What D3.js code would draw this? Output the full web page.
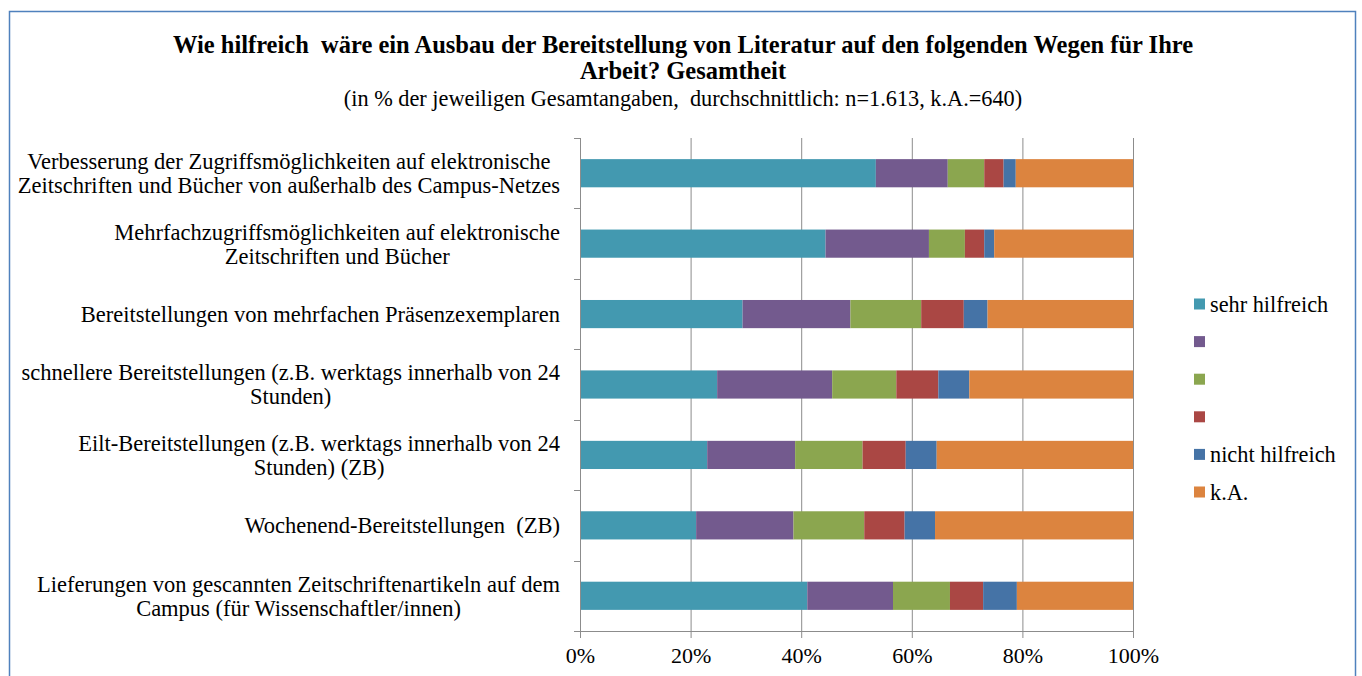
<!DOCTYPE html>
<html>
<head>
<meta charset="utf-8">
<script src="https://cdn.jsdelivr.net/npm/d3@7"></script>
<style>
    body { margin: 0; background: #fff; }
</style>
</head>
<body>
<div id="chart"></div>
<script>
// Categories (top to bottom), each entry is a list of label lines
var categories = [
    ['Verbesserung der Zugriffsmöglichkeiten auf elektronische', 'Zeitschriften und Bücher von außerhalb des Campus-Netzes'],
    ['Mehrfachzugriffsmöglichkeiten auf elektronische', 'Zeitschriften und Bücher'],
    ['Bereitstellungen von mehrfachen Präsenzexemplaren'],
    ['schnellere Bereitstellungen (z.B. werktags innerhalb von 24', 'Stunden)'],
    ['Eilt-Bereitstellungen (z.B. werktags innerhalb von 24', 'Stunden) (ZB)'],
    ['Wochenend-Bereitstellungen  (ZB)'],
    ['Lieferungen von gescannten Zeitschriftenartikeln auf dem', 'Campus (für Wissenschaftler/innen)']
];

// Series names (legend), some of the middle steps are unlabeled
var seriesNames = ['sehr hilfreich', '', '', '', 'nicht hilfreich', 'k.A.'];

// Values in % per series, in category order
var sehrHilfreich  = [53.5, 44.4, 29.4, 24.8, 23.0, 21.0, 41.1];
var stufe2         = [13.0, 18.7, 19.5, 20.8, 15.9, 17.6, 15.5];
var stufe3         = [ 6.6,  6.5, 12.8, 11.6, 12.2, 12.8, 10.3];
var stufe4         = [ 3.5,  3.5,  7.7,  7.6,  7.8,  7.3,  6.0];
var nichtHilfreich = [ 2.2,  1.8,  4.3,  5.6,  5.6,  5.5,  6.1];
var keineAngabe    = [21.2, 25.1, 26.3, 29.6, 35.5, 35.8, 21.0];

var xTicks = [0, 20, 40, 60, 80, 100];

var colors = ['#4399b0', '#735a8e', '#8ba64f', '#aa4744', '#4573a6', '#dc843f'];

var FONT = "'Liberation Serif'";

var W = 1362, H = 676;
var margin = {top: 138, left: 580, right: 229, bottom: 45};
var width = W - margin.left - margin.right;
var height = H - margin.top - margin.bottom;

var svg = d3.select('#chart').append('svg')
    .attr('width', W)
    .attr('height', H);

// Outer frame
svg.append('rect')
    .attr('x', 9.5)
    .attr('y', 11.5)
    .attr('width', 1346)
    .attr('height', 700)
    .attr('fill', 'none')
    .attr('stroke', '#4f81bd')
    .attr('stroke-width', 1.5);

// Titles
svg.append('text')
    .attr('x', 683).attr('y', 53)
    .attr('text-anchor', 'middle')
    .style('font-family', FONT)
    .style('font-weight', 'bold')
    .style('font-size', '24.5px')
    .style('white-space', 'pre')
    .text('Wie hilfreich  wäre ein Ausbau der Bereitstellung von Literatur auf den folgenden Wegen für Ihre');
svg.append('text')
    .attr('x', 683).attr('y', 79)
    .attr('text-anchor', 'middle')
    .style('font-family', FONT)
    .style('font-weight', 'bold')
    .style('font-size', '24.5px')
    .text('Arbeit? Gesamtheit');
svg.append('text')
    .attr('x', 683).attr('y', 106)
    .attr('text-anchor', 'middle')
    .style('font-family', FONT)
    .style('font-size', '22.3px')
    .style('white-space', 'pre')
    .text('(in % der jeweiligen Gesamtangaben,  durchschnittlich: n=1.613, k.A.=640)');

var g = svg.append('g')
    .attr('transform', 'translate(' + margin.left + ',' + margin.top + ')');

var x = d3.scaleLinear().domain([0, 100]).range([0, width]);
var y = d3.scaleBand()
    .domain(d3.range(categories.length))
    .range([0, height])
    .paddingInner(0.6)
    .paddingOuter(0.3);

// Vertical gridlines + bottom ticks
var xAxis = d3.axisBottom(x)
    .tickValues(xTicks)
    .tickSize(-height)
    .tickFormat(function(d) { return d + '%'; });

var xg = g.append('g')
    .attr('class', 'x axis')
    .attr('transform', 'translate(0,' + height + ')')
    .call(xAxis);
xg.select('.domain').remove();
xg.selectAll('.tick line')
    .attr('y1', 7)
    .attr('stroke', '#8c8c8c');
xg.selectAll('.tick text')
    .attr('y', 32)
    .attr('dy', 0)
    .attr('fill', '#000')
    .style('font-family', FONT)
    .style('font-size', '22px');

// Stacked data
var table = categories.map(function(c, i) {
    return {i: i, s0: sehrHilfreich[i], s1: stufe2[i], s2: stufe3[i],
            s3: stufe4[i], s4: nichtHilfreich[i], s5: keineAngabe[i]};
});
var keys = ['s0', 's1', 's2', 's3', 's4', 's5'];
var stacked = d3.stack().keys(keys)(table);

var groups = g.selectAll('g.series')
    .data(stacked)
    .enter().append('g')
    .attr('class', 'series')
    .style('fill', function(d, i) { return colors[i]; });

groups.selectAll('rect')
    .data(function(d) { return d; })
    .enter().append('rect')
    .attr('x', function(d) { return x(d[0]); })
    .attr('width', function(d) { return x(d[1]) - x(d[0]); })
    .attr('y', function(d) { return y(d.data.i); })
    .attr('height', y.bandwidth());

// Category axis line and tick marks
g.append('line')
    .attr('x1', 0.5).attr('x2', 0.5)
    .attr('y1', 0).attr('y2', height)
    .attr('stroke', '#8c8c8c');
g.append('line')
    .attr('x1', -6).attr('x2', width)
    .attr('y1', height + 0.5).attr('y2', height + 0.5)
    .attr('stroke', '#8c8c8c');
g.selectAll('.ytick')
    .data(d3.range(categories.length + 1))
    .enter().append('line')
    .attr('class', 'ytick')
    .attr('x1', -6).attr('x2', 0)
    .attr('y1', function(d) { return Math.round(d * y.step()) + 0.5; })
    .attr('y2', function(d) { return Math.round(d * y.step()) + 0.5; })
    .attr('stroke', '#8c8c8c');

// Category labels: lines centered inside a block that ends near the axis
var labelRight = -20;
var lineH = 24;
categories.forEach(function(lines, i) {
    var cy = y(i) + y.bandwidth() / 2;
    var lab = g.append('text')
        .style('font-family', FONT)
        .style('font-size', '22.5px')
        .style('white-space', 'pre')
        .attr('text-anchor', 'middle');
    var tmp = lines.map(function(l) {
        return lab.append('tspan').text(l);
    });
    var maxW = d3.max(tmp, function(t) { return t.node().getComputedTextLength(); });
    var cx = labelRight - maxW / 2;
    tmp.forEach(function(t, k) {
        t.attr('x', cx)
         .attr('y', cy + (k - (lines.length - 1) / 2) * lineH)
         .attr('dy', '0.35em');
    });
});

// Legend
var legend = svg.selectAll('.legend')
    .data(seriesNames)
    .enter().append('g')
    .attr('class', 'legend')
    .attr('transform', function(d, i) { return 'translate(1194,' + (304 + i * 37.6) + ')'; });

legend.append('rect')
    .attr('x', 0)
    .attr('y', -5.5)
    .attr('width', 11)
    .attr('height', 11)
    .style('fill', function(d, i) { return colors[i]; });

legend.append('text')
    .attr('x', 16)
    .attr('y', 0)
    .attr('dy', '0.35em')
    .style('font-family', FONT)
    .style('font-size', '22.3px')
    .text(function(d) { return d; });
</script>
</body>
</html>
